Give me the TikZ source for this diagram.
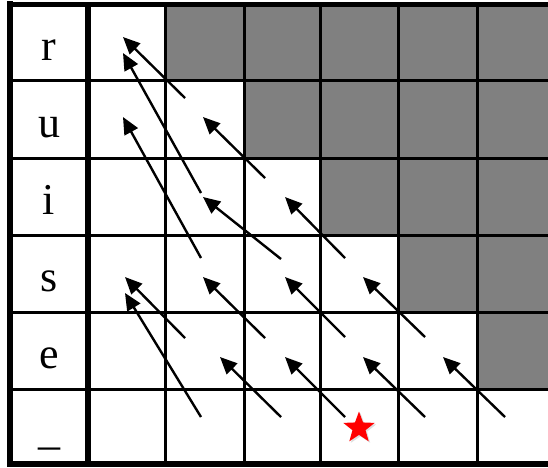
\documentclass[tikz,border=0pt]{standalone}
\usepackage{fontspec}
\setmainfont{Liberation Serif}
\usetikzlibrary{arrows.meta,shapes.geometric,shadows}
\begin{document}
\begin{tikzpicture}[x=1pt,y=-1pt,
  thinline/.style={line width=3pt,black},
  thickline/.style={line width=6pt,black},
  graycell/.style={fill=black!50},
  lbl/.style={font=\fontsize{44}{50}\selectfont,inner sep=0pt,anchor=base},
  arr/.style={line width=2.4pt,-{Triangle[length=17pt,width=15pt]}},
  mark star/.style={star,star points=5,star point ratio=2.4,fill=red,draw=none,
    minimum size=33pt,inner sep=0pt,
    drop shadow={opacity=0.25,shadow xshift=1.5pt,shadow yshift=-1.5pt}}]
\useasboundingbox (0,0) rectangle (548,467);
% gray cells
\fill[graycell] (165,4.5) rectangle (548,80);
\fill[graycell] (244,80) rectangle (548,158);
\fill[graycell] (320,158) rectangle (548,235);
\fill[graycell] (398,235) rectangle (548,312);
\fill[graycell] (477,312) rectangle (548,389);
% thin grid lines
\foreach \xx in {165,244,320,398,477} \draw[thinline] (\xx,4.5) -- (\xx,464);
\foreach \yy in {80,158,235,312,389} \draw[thinline] (10,\yy) -- (548,\yy);
% thick borders
\draw[thickline] (10,1) -- (10,467);
\draw[thickline] (88,4.5) -- (88,464);
\draw[line width=5pt] (7,4.5) -- (548,4.5);
\draw[thickline] (7,464) -- (548,464);
% labels
\node[lbl] (lr) at (49,60) {r};
\node[lbl] (lu) at (49,137) {u};
\node[lbl] (li) at (49,214) {i};
\node[lbl] (ls) at (49,291.5) {s};
\node[lbl] (le) at (49,368.5) {e};
\node[lbl] (l_) at (49,444.5) {\_};
% arrow end points
\coordinate (t1) at (185,98);   \coordinate (h1) at (123,37);
\coordinate (t2) at (201,193);  \coordinate (h2) at (123,53);
\coordinate (t3) at (265,178);  \coordinate (h3) at (203,117);
\coordinate (t4) at (201,258);  \coordinate (h4) at (123,117);
\coordinate (t5) at (281,259);  \coordinate (h5) at (203,197);
\coordinate (t6) at (345,258);  \coordinate (h6) at (285,197);
\coordinate (t7) at (185,338);  \coordinate (h7) at (125,277);
\coordinate (t8) at (201,417);  \coordinate (h8) at (125,293);
\coordinate (t9) at (265,338);  \coordinate (h9) at (203,277);
\coordinate (t10) at (345,337); \coordinate (h10) at (285,277);
\coordinate (t11) at (425,337); \coordinate (h11) at (363,277);
\coordinate (t12) at (281,417); \coordinate (h12) at (220,357);
\coordinate (t13) at (345,417); \coordinate (h13) at (285,357);
\coordinate (t14) at (425,417); \coordinate (h14) at (363,357);
\coordinate (t15) at (505,417); \coordinate (h15) at (443,357);
\foreach \i in {1,...,15} \draw[arr] (t\i) -- (h\i);
% star
\node[mark star] (goal) at (359,428) {};
\end{tikzpicture}
\end{document}
